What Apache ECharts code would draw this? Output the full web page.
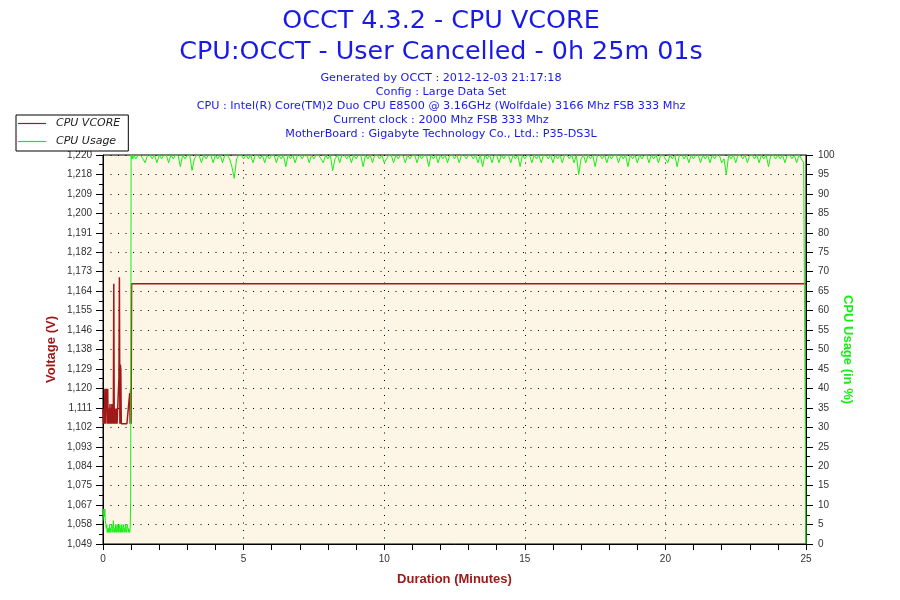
<!DOCTYPE html>
<html>
<head>
<meta charset="utf-8">
<script src="https://cdn.jsdelivr.net/npm/echarts@6/dist/echarts.min.js"></script>
<style>
html, body { margin: 0; padding: 0; background: #fff; }
#chart { width: 900px; height: 600px; }
</style>
</head>
<body>
<div id="chart"></div>
<script>
const TITLE_LINES = [
    'OCCT 4.3.2 - CPU VCORE',
    'CPU:OCCT - User Cancelled - 0h 25m 01s'
];
const INFO_LINES = [
    'Generated by OCCT : 2012-12-03 21:17:18',
    'Config : Large Data Set',
    'CPU : Intel(R) Core(TM)2 Duo CPU E8500 @ 3.16GHz (Wolfdale) 3166 Mhz FSB 333 Mhz',
    'Current clock : 2000 Mhz FSB 333 Mhz',
    'MotherBoard : Gigabyte Technology Co., Ltd.: P35-DS3L'
];

// tick labels of the voltage axis, bottom to top (5 % steps)
const VOLT_LABELS = ['1,049', '1,058', '1,067', '1,075', '1,084', '1,093', '1,102',
    '1,111', '1,120', '1,129', '1,138', '1,146', '1,155', '1,164', '1,173', '1,182',
    '1,191', '1,200', '1,209', '1,218', '1,220'];
const V_MIN = 1.049;
const V_STEP = 0.008895;
const V_MAX = 1.2269;

// vcore, one sample per second, 0 s .. 61 s
const VCORE_EARLY = [
    1.111, 1.104, 1.109, 1.104, 1.120, 1.104, 1.120, 1.111, 1.120, 1.104,
    1.120, 1.104, 1.111, 1.104, 1.104, 1.113, 1.104, 1.111, 1.104, 1.113,
    1.104, 1.111, 1.104, 1.168, 1.104, 1.104, 1.111, 1.104, 1.104, 1.111,
    1.104, 1.104, 1.104, 1.104, 1.125, 1.171, 1.104, 1.131, 1.129, 1.104,
    1.104, 1.104, 1.104, 1.104, 1.104, 1.104, 1.104, 1.104, 1.104, 1.104,
    1.104, 1.104, 1.104, 1.104, 1.104, 1.104, 1.104, 1.118, 1.104, 1.120,
    1.104, 1.168
];
// vcore after the load started (minutes / volts)
const VCORE_LATE_TIMES = [1.05, 25];
const VCORE_LATE = [1.168, 1.168];

// cpu usage, one sample per second, 0 s .. 64 s
const USAGE_EARLY = [
    6, 8, 9, 7, 9, 6, 5, 4, 5, 3,
    4, 3, 4, 3, 5, 3, 4, 3, 4, 5,
    4, 3, 6, 4, 3, 4, 3, 5, 4, 3,
    5, 4, 3, 5, 3, 4, 5, 3, 4, 3,
    5, 4, 3, 4, 5, 3, 4, 3, 5, 4,
    3, 4, 5, 4, 3, 4, 4, 3, 4, 11,
    100, 99, 100, 100, 99
];
// cpu usage, one sample every 5 s from 1:05 to 25:00 (one row per minute)
const USAGE_MAIN = [
    100, 99, 100, 100, 99, 98, 100, 100, 99, 100, 98, 100,
    99, 100, 100, 98, 100, 99, 100, 100, 97, 100, 99, 100,
    100, 96, 99, 100, 100, 98, 100, 99, 100, 100, 98, 100,
    99, 100, 98, 100, 100, 99, 97, 94, 99, 100, 100, 99,
    100, 99, 100, 98, 100, 100, 99, 100, 98, 100, 99, 100,
    100, 98, 100, 99, 100, 97, 100, 99, 100, 98, 100, 100,
    99, 100, 100, 98, 100, 99, 100, 100, 99, 98, 100, 99,
    100, 96, 99, 100, 98, 100, 100, 99, 100, 98, 100, 99,
    100, 100, 97, 100, 99, 100, 98, 100, 100, 99, 100, 98,
    99, 100, 100, 98, 100, 99, 100, 100, 98, 100, 99, 100,
    100, 98, 100, 99, 100, 100, 97, 100, 99, 100, 98, 100,
    99, 100, 98, 100, 100, 99, 100, 98, 100, 100, 99, 100,
    100, 99, 100, 98, 100, 97, 100, 99, 100, 98, 100, 100,
    98, 100, 99, 100, 100, 98, 100, 99, 100, 97, 100, 99,
    100, 100, 98, 100, 99, 100, 98, 100, 100, 99, 100, 98,
    100, 99, 100, 98, 100, 100, 99, 100, 98, 100, 95, 99,
    100, 98, 100, 99, 100, 97, 100, 100, 99, 100, 98, 100,
    99, 100, 100, 98, 100, 99, 100, 97, 100, 99, 100, 98,
    100, 99, 100, 100, 98, 100, 99, 100, 98, 100, 100, 99,
    98, 100, 99, 100, 97, 100, 100, 99, 100, 98, 100, 99,
    100, 100, 98, 100, 99, 100, 98, 100, 99, 100, 100, 98,
    99, 95, 100, 99, 100, 98, 100, 100, 99, 100, 98, 100,
    100, 99, 100, 98, 100, 99, 100, 97, 100, 100, 99, 100,
    99, 100, 98, 100, 100, 99, 100, 98, 100, 99, 98, 0
];

const X_TICKS = [0, 5, 10, 15, 20, 25];

const BLUE = '#1a1ae8';
const DARK_RED = '#a01818';
const GREEN = '#14f014';

const vcoreData = VCORE_EARLY.map((v, i) => [i / 60, v])
    .concat(VCORE_LATE_TIMES.map((t, i) => [t, VCORE_LATE[i]]));
const usageData = USAGE_EARLY.map((v, i) => [i / 60, v])
    .concat(USAGE_MAIN.map((v, i) => [(65 + 5 * i) / 60, v]));

// header is centred a bit left of the page middle, like the original
const TITLE_X = 441;
const titles = [
    { text: TITLE_LINES[0], top: 9, fontSize: 25.4 },
    { text: TITLE_LINES[1], top: 40, fontSize: 25.4 }
].concat(INFO_LINES.map((t, i) => ({ text: t, top: 72.5 + i * 14, fontSize: 11.2 })))
 .map(t => ({
    text: t.text,
    left: TITLE_X,
    textAlign: 'center',
    top: t.top,
    padding: 0,
    textStyle: {
        fontFamily: 'DejaVu Sans',
        fontWeight: 'normal',
        fontSize: t.fontSize,
        color: BLUE
    }
}));

const chart = echarts.init(document.getElementById('chart'));

const tickLabel = {
    fontFamily: 'Liberation Sans',
    fontSize: 10,
    color: '#333'
};
const axisName = {
    fontFamily: 'Liberation Sans',
    fontSize: 13,
    fontWeight: 'bold'
};
const dotted = {
    show: true,
    lineStyle: { color: '#000', width: 1, type: [1, 6.5] }
};

const option = {
    animation: false,
    backgroundColor: '#fff',
    title: titles,
    legend: {
        left: 16,
        top: 115,
        orient: 'vertical',
        padding: [3, 8, 4, 2],
        icon: 'rect',
        itemWidth: 28,
        itemHeight: 1.2,
        itemGap: 7,
        backgroundColor: '#fff',
        borderColor: '#000',
        borderWidth: 1,
        borderRadius: 0,
        textStyle: {
            fontFamily: 'DejaVu Sans',
            fontStyle: 'italic',
            fontSize: 11,
            color: '#222',
            padding: [0, 0, 0, 5]
        },
        data: ['CPU VCORE', 'CPU Usage']
    },
    grid: {
        left: 103,
        top: 155,
        width: 703,
        height: 389,
        show: true,
        backgroundColor: '#fdf5e6',
        borderColor: '#000',
        borderWidth: 1
    },
    xAxis: {
        type: 'value',
        min: X_TICKS[0],
        max: X_TICKS[X_TICKS.length - 1],
        interval: 5,
        name: 'Duration (Minutes)',
        nameLocation: 'middle',
        nameGap: 29,
        nameMoveOverlap: false,
        nameTextStyle: Object.assign({ color: DARK_RED }, axisName),
        axisLine: { lineStyle: { color: '#000', width: 1 } },
        axisTick: { show: true, length: 6, lineStyle: { color: '#000' } },
        minorTick: { show: true, splitNumber: 5, length: 6, lineStyle: { color: '#000' } },
        axisLabel: Object.assign({ margin: 10 }, tickLabel),
        splitLine: dotted
    },
    yAxis: [{
        type: 'value',
        position: 'left',
        min: V_MIN,
        max: V_MAX,
        interval: V_STEP,
        name: 'Voltage (V)',
        nameLocation: 'middle',
        nameGap: 45,
        nameMoveOverlap: false,
        nameTextStyle: Object.assign({ color: DARK_RED }, axisName),
        axisLine: { show: true, lineStyle: { color: '#000', width: 1 } },
        axisTick: { show: true, length: 7, lineStyle: { color: '#000' } },
        minorTick: { show: true, splitNumber: 2, length: 4, lineStyle: { color: '#000' } },
        axisLabel: Object.assign({
            margin: 11,
            showMinLabel: true,
            showMaxLabel: true,
            formatter: v => VOLT_LABELS[Math.round((v - V_MIN) / V_STEP)] || ''
        }, tickLabel),
        splitLine: { show: false }
    }, {
        type: 'value',
        position: 'right',
        min: 0,
        max: 100,
        interval: 5,
        name: 'CPU Usage (in %)',
        nameLocation: 'middle',
        nameRotate: -90,
        nameGap: 35,
        nameMoveOverlap: false,
        nameTextStyle: Object.assign({ color: GREEN }, axisName),
        axisLine: { show: true, lineStyle: { color: '#000', width: 1 } },
        axisTick: { show: true, length: 7, lineStyle: { color: '#000' } },
        minorTick: { show: true, splitNumber: 2, length: 4, lineStyle: { color: '#000' } },
        axisLabel: Object.assign({ margin: 12 }, tickLabel),
        splitLine: dotted
    }],
    series: [{
        name: 'CPU VCORE',
        type: 'line',
        yAxisIndex: 0,
        data: vcoreData,
        symbol: 'none',
        lineStyle: { color: DARK_RED, width: 1.5 },
        itemStyle: { color: DARK_RED }
    }, {
        name: 'CPU Usage',
        type: 'line',
        yAxisIndex: 1,
        data: usageData,
        symbol: 'none',
        lineStyle: { color: GREEN, width: 1 },
        itemStyle: { color: GREEN }
    }]
};

chart.setOption(option);
</script>
</body>
</html>
